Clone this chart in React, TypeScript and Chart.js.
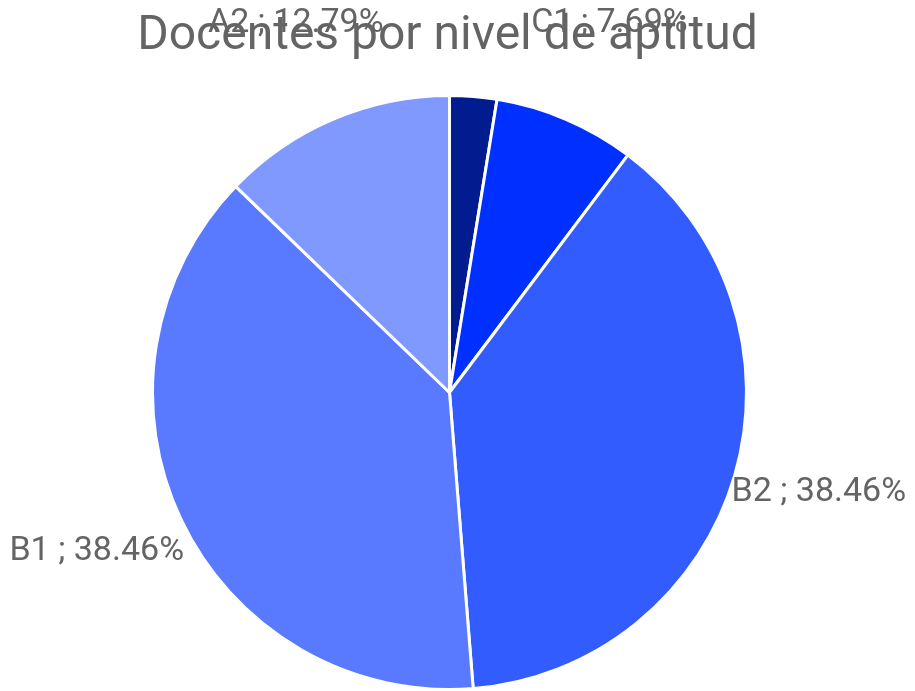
import React, { useEffect, useRef } from "react";
import { Chart, registerables } from "chart.js";

Chart.register(...registerables);

const TITLE = "Docentes por nivel de aptitud";
const categories = ["C2", "C1", "B2", "B1", "A2"];
const values = [2.56, 7.69, 38.46, 38.46, 12.79];
const colors = ["#001c8f", "#0030ff", "#335cff", "#5979ff", "#8099ff"];

const labelPlugin = {
  id: "outLabels",
  afterDraw(chart: any) {
    const ctx = chart.ctx;
    const meta = chart.getDatasetMeta(0);
    ctx.save();
    ctx.fillStyle = "#646464";
    ctx.font = "34px Roboto";
    ctx.textAlign = "center";
    ctx.textBaseline = "middle";
    meta.data.forEach((arc: any, i: number) => {
      const v = values[i];
      if (v < 5) return;
      const mid = (arc.startAngle + arc.endAngle) / 2;
      const dx = Math.cos(mid);
      const dy = Math.sin(mid);
      const R = arc.outerRadius + 76 + 30 * Math.abs(dy);
      const x = arc.x + dx * R + (dx > 0 || dy < 0 ? 3 : -4);
      const y = arc.y + dy * R - (dy > 0 ? 6 : 0);
      ctx.fillText(`${categories[i]} ; ${v.toFixed(2)}%`, x, y);
    });
    ctx.font = "48px Roboto";
    ctx.textBaseline = "alphabetic";
    const ca = chart.chartArea;
    ctx.fillText(TITLE, (ca.left + ca.right) / 2 - 2, 49);
    ctx.restore();
  },
};

export default function App() {
  const ref = useRef<HTMLCanvasElement>(null);
  useEffect(() => {
    document.body.style.margin = "0";
    const chart = new Chart(ref.current!, {
      type: "pie",
      data: {
        labels: categories,
        datasets: [
          {
            data: values,
            backgroundColor: colors,
            borderColor: "#ffffff",
            borderWidth: 3,
          },
        ],
      },
      options: {
        responsive: false,
        animation: false,
        layout: { padding: { left: 150, right: 166, top: 94, bottom: -2 } },
        plugins: {
          legend: { display: false },
          title: { display: false },
          tooltip: { enabled: false },
        },
      },
      plugins: [labelPlugin],
    });
    return () => chart.destroy();
  }, []);
  return (
    <div style={{ width: 915, height: 691, background: "#fff" }}>
      <canvas ref={ref} width={915} height={691} />
    </div>
  );
}
